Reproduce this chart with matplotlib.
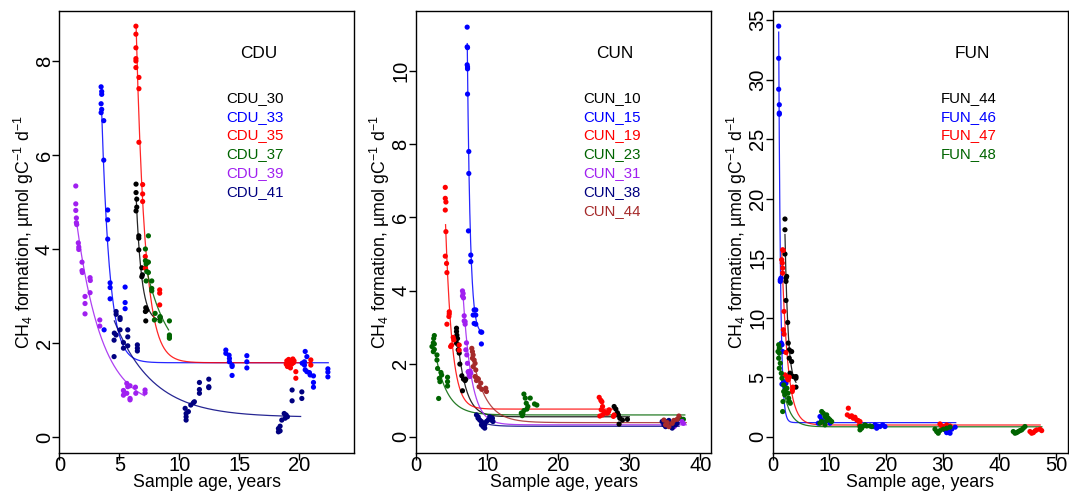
import numpy as np
import matplotlib
matplotlib.use('Agg')
import matplotlib.pyplot as plt

plt.rcParams['font.family'] = ['Liberation Sans', 'DejaVu Sans']
plt.rcParams['mathtext.fontset'] = 'custom'
plt.rcParams['mathtext.rm'] = 'Liberation Sans'
plt.rcParams['mathtext.default'] = 'regular'

# ---------------- CDU ----------------
cdu30_x = [6.39, 6.39, 6.45, 6.39, 6.45, 6.62, 6.62, 6.62, 6.87, 6.87, 6.92, 7.2, 7.17, 7.2, 7.28, 8.39]
cdu30_y = [5.38, 5.20, 5.06, 4.81, 4.89, 4.28, 4.23, 3.98, 3.60, 3.41, 3.45, 2.75, 2.67, 2.47, 2.70, 2.55]
cdu33_x = [3.48, 3.53, 3.53, 3.48, 3.53, 3.48, 3.70, 3.70, 4.03, 4.03, 4.03, 4.23, 4.23, 4.23, 5.48, 5.48, 5.48, 3.73,
           13.87, 13.87, 14.14, 14.17, 14.17, 14.39, 14.39, 14.39, 15.62, 15.62, 15.62,
           20.48, 20.62, 20.42, 20.42, 20.48, 20.62, 20.83, 20.89, 21.17, 21.17, 21.17, 20.23, 22.37, 22.37, 22.37]
cdu33_y = [7.45, 7.35, 7.29, 7.09, 6.97, 6.90, 6.73, 5.89, 4.83, 4.62, 4.21, 3.28, 3.18, 2.94, 3.19, 2.86, 2.73, 2.28,
           1.85, 1.78, 1.74, 1.67, 1.60, 1.53, 1.50, 1.31, 1.73, 1.60, 1.47,
           1.82, 1.71, 1.60, 1.53, 1.43, 1.39, 1.37, 1.32, 1.30, 1.16, 1.06, 1.57, 1.45, 1.38, 1.28]
cdu35_x = [6.38, 6.38, 6.38, 6.38, 6.38, 6.38, 6.63, 6.63, 6.63, 6.94, 6.94, 6.94, 7.16, 7.16, 8.36, 8.36, 8.36,
           18.9, 18.95, 19.0, 19.05, 19.1, 19.15, 19.2, 19.25, 19.3, 19.35, 19.45, 19.5, 19.55, 19.7, 19.7, 20.95, 20.95]
cdu35_y = [8.74, 8.57, 8.28, 8.05, 8.00, 7.86, 7.65, 7.41, 6.27, 5.37, 5.17, 5.01, 3.84, 3.59, 3.13, 3.06, 2.81,
           1.55, 1.62, 1.50, 1.58, 1.65, 1.52, 1.60, 1.47, 1.63, 1.55, 1.66, 1.58, 1.62, 1.39, 1.25, 1.64, 1.53]
cdu37_x = [7.42, 7.17, 7.17, 7.33, 7.42, 7.23, 7.28, 7.42, 7.23, 7.7, 7.7, 7.7, 7.98, 7.92, 8.39, 8.39, 9.17, 9.17, 9.17, 9.17]
cdu37_y = [4.28, 4.0, 3.75, 3.72, 3.72, 3.68, 3.52, 3.50, 3.32, 3.32, 3.16, 3.11, 2.63, 2.49, 2.56, 2.47, 2.47, 2.17, 2.10, 2.13]
cdu39_x = [1.37, 1.37, 1.37, 1.42, 1.42, 1.45, 1.58, 1.62, 1.62, 1.89, 1.89, 1.92, 2.56, 2.58, 2.56, 2.14, 2.14, 2.14, 3.37, 3.37,
           5.62, 5.7, 5.89, 6.34, 6.37, 7.14, 7.14, 5.34, 5.34, 5.62, 5.89, 5.89, 5.42]
cdu39_y = [5.34, 4.96, 4.82, 4.66, 4.56, 4.52, 4.13, 4.04, 3.99, 3.72, 3.54, 3.50, 3.39, 3.33, 3.07, 2.99, 2.84, 2.62, 2.49, 2.36,
           1.14, 1.07, 1.09, 1.06, 0.93, 1.0, 0.94, 0.99, 0.89, 0.93, 0.82, 0.79, 0.94]
cdu41_x = [4.73, 4.73, 5.06, 5.06, 4.58, 5.06, 4.73, 5.7, 5.7, 5.34, 5.34, 5.7, 4.56, 4.56, 6.5, 6.5, 6.5,
           10.48, 10.56, 10.56, 10.56, 10.75, 10.95, 11.17, 11.25, 11.67, 11.67, 11.67, 12.45, 12.45, 12.45,
           18.73, 18.89, 19.0, 18.81, 18.53, 18.39, 18.25, 18.25, 18.39, 19.39, 19.39, 20.2, 20.2]
cdu41_y = [2.67, 2.61, 2.54, 2.50, 2.21, 2.28, 2.17, 2.28, 2.13, 2.01, 1.89, 1.94, 2.06, 1.71, 1.96, 1.89, 1.83,
           0.61, 0.50, 0.43, 0.36, 0.54, 0.68, 0.73, 0.75, 1.16, 1.01, 0.93, 1.23, 1.07, 1.05,
           0.50, 0.47, 0.43, 0.40, 0.36, 0.23, 0.18, 0.11, 0.13, 1.0, 0.77, 0.96, 0.82]

# ---------------- CUN ----------------
cun10_x = [5.69, 5.69, 5.74, 5.83, 5.69, 5.97, 5.93, 6.07, 6.16, 6.44, 6.67, 6.9, 7.0, 6.53,
           27.86, 28.1, 28.32, 28.46, 28.66, 29.03, 29.73, 28.56]
cun10_y = [2.97, 2.88, 2.78, 2.69, 2.56, 2.51, 2.38, 2.29, 1.99, 1.67, 1.58, 1.54, 1.58, 1.26,
           0.83, 0.76, 0.66, 0.60, 0.51, 0.46, 0.48, 0.35]
cun15_x = [7.19, 7.19, 7.24, 7.19, 7.24, 7.24, 7.24, 7.42, 7.42, 7.37, 7.7, 7.7, 8.17, 8.4, 8.03, 8.4, 8.17, 8.4, 9.1, 9.24, 9.19]
cun15_y = [11.2, 10.66, 10.64, 10.17, 10.11, 10.06, 9.37, 7.80, 7.2, 5.63, 4.97, 4.79, 3.47, 3.47, 3.33, 3.33, 3.10, 3.08, 2.87, 2.86, 2.54]
cun19_x = [4.11, 4.11, 4.2, 4.11, 4.2, 4.11, 4.29, 4.34, 4.67, 4.67, 4.62, 4.34, 5.22, 5.32, 4.86, 5.0, 6.07, 6.07,
           25.76, 25.99, 26.04, 26.22, 25.85, 26.46, 26.93, 27.16, 27.86, 27.76, 26.14, 26.23, 26.7, 27.07]
cun19_y = [6.82, 6.52, 6.42, 6.20, 5.61, 4.94, 4.74, 4.49, 3.42, 3.36, 3.29, 3.08, 2.72, 2.65, 2.47, 2.51, 2.51, 2.37,
           1.08, 1.0, 0.74, 0.60, 0.57, 0.69, 0.65, 0.74, 0.60, 0.56, 0.96, 0.83, 0.65, 0.69]
cun23_x = [2.57, 2.48, 2.43, 2.57, 2.24, 2.57, 2.43, 2.94, 2.94, 3.03, 3.5, 3.6, 3.27, 3.36, 4.43, 4.43, 4.43, 3.18,
           15.17, 15.36, 16.06, 15.5, 15.73, 15.59, 16.66, 16.99, 15.17, 15.02, 14.94, 14.8, 36.5, 37.2, 37.6]
cun23_y = [2.77, 2.69, 2.57, 2.54, 2.47, 2.39, 2.33, 2.24, 2.10, 1.87, 1.76, 1.69, 1.60, 1.51, 1.63, 1.51, 1.39, 1.05,
           1.17, 1.06, 1.06, 0.92, 0.83, 0.76, 0.90, 0.87, 0.72, 0.63, 0.58, 0.65, 0.45, 0.50, 0.48]
cun31_x = [6.53, 6.62, 6.53, 6.67, 6.77, 6.77, 6.9, 6.9, 7.09, 7.0, 7.14, 7.23, 7.37, 7.47, 7.6, 7.33, 7.47, 7.7, 7.56,
           37.4, 37.6, 36.5, 36.3]
cun31_y = [3.99, 3.92, 3.85, 3.80, 3.31, 3.17, 3.15, 3.08, 2.57, 2.38, 2.24, 2.01, 1.78, 1.74, 1.80, 1.78, 1.69, 1.74, 1.65,
           0.42, 0.37, 0.33, 0.28]
cun38_x = [8.5, 8.73, 8.96, 9.2, 9.42, 9.66, 9.9, 10.13, 9.2, 10.36, 10.74, 10.82, 10.6, 8.73, 9.43, 9.66,
           34.62, 34.86, 35.1, 35.33, 35.56, 35.8, 36.03, 36.5, 36.73, 35.1]
cun38_y = [0.6, 0.51, 0.46, 0.42, 0.37, 0.33, 0.42, 0.46, 0.33, 0.55, 0.51, 0.42, 0.46, 0.55, 0.28, 0.24,
           0.42, 0.33, 0.28, 0.37, 0.45, 0.33, 0.24, 0.33, 0.37, 0.42]
cun44_x = [7.84, 7.93, 8.03, 7.93, 8.17, 8.3, 8.03, 8.4, 8.3, 8.63, 8.5, 8.77, 9.1, 8.87, 9.24, 9.8, 9.9,
           34.86, 35.1, 35.56, 36.03, 36.26, 36.73, 36.97, 35.33]
cun44_y = [2.42, 2.33, 2.24, 2.15, 2.10, 2.01, 1.92, 1.83, 1.65, 1.60, 1.54, 1.58, 1.47, 1.37, 1.30, 1.33, 1.24,
           0.46, 0.33, 0.28, 0.37, 0.45, 0.48, 0.57, 0.39]

# ---------------- FUN ----------------
fun44_x = [2.17, 2.17, 2.17, 2.35, 2.35, 2.47, 2.35, 2.65, 2.75, 2.93, 2.93, 3.35, 3.35, 3.05, 3.64, 4.11, 4.11, 4.11, 3.05]
fun44_y = [18.3, 17.4, 15.36, 13.34, 13.06, 13.48, 11.46, 9.61, 7.88, 7.31, 6.61, 7.17, 6.33, 5.35, 5.07, 5.07, 4.93, 4.18, 5.21]
fun46_x = [1.06, 1.06, 1.06, 1.17, 1.17, 1.17, 1.34, 1.34, 1.46, 1.52, 1.64, 1.76, 1.94, 2.12, 2.22, 1.64, 2.35,
           8.35, 8.64, 8.93, 9.81, 10.11, 8.05,
           18.05, 18.46, 18.93, 19.41, 19.82, 18.35, 17.75,
           30.4, 31.0, 31.6, 32.2, 31.3, 30.7]
fun46_y = [34.5, 31.8, 29.2, 27.9, 27.2, 27.1, 13.2, 13.06, 13.34, 7.88, 7.74, 7.17, 4.65, 4.37, 4.09, 4.43, 4.51,
           1.71, 1.43, 1.29, 1.49, 1.15, 1.15,
           1.01, 0.92, 0.87, 1.01, 0.87, 0.73, 0.87,
           0.59, 0.45, 0.65, 0.82, 0.31, 0.36]
fun47_x = [1.76, 1.88, 1.59, 1.7, 1.76, 1.76, 2.0, 1.88, 2.0, 2.35, 2.17, 2.47, 2.65, 2.75, 2.93, 3.5, 3.45, 3.55,
           13.35, 13.17, 13.64, 13.94, 14.23, 14.52, 14.82, 15.11, 15.41, 15.3,
           29.52, 29.82, 30.1, 30.7, 30.99, 31.29,
           45.4, 45.99, 46.29, 46.59, 47.17, 47.47, 45.7]
fun47_y = [15.72, 15.66, 14.88, 14.6, 14.18, 13.76, 10.54, 9.0, 8.63, 7.09, 5.21, 5.07, 4.85, 4.79, 5.02, 3.95, 3.81, 4.18,
           2.41, 1.85, 1.71, 1.77, 1.57, 1.65, 1.43, 1.37, 1.29, 1.01,
           1.09, 0.92, 0.87, 1.01, 0.82, 0.92,
           0.45, 0.36, 0.5, 0.59, 0.65, 0.53, 0.31]
fun48_x = [1.06, 1.17, 0.94, 1.17, 1.06, 1.34, 1.17, 1.52, 1.64, 1.94, 1.94, 2.12, 2.22, 2.52, 2.7, 2.82, 2.93, 3.11, 1.82, 1.76,
           8.65, 8.93, 9.23, 9.53, 9.81, 8.65, 8.35, 9.53, 10.11, 10.41, 9.23,
           15.41, 15.7, 15.99, 16.29, 16.59, 17.17, 15.41, 17.47,
           28.64, 28.94, 29.22, 29.52, 30.1, 30.7, 31.29,
           42.46, 42.76, 43.06, 43.34, 43.64, 44.22, 44.52, 43.94]
fun48_y = [7.74, 7.46, 7.17, 7.04, 6.61, 6.19, 5.77, 5.35, 4.93, 4.37, 3.81, 3.53, 3.95, 4.09, 3.67, 3.25, 2.97, 2.83, 2.97, 2.13,
           2.13, 1.99, 1.71, 1.85, 1.57, 1.29, 1.15, 1.37, 1.43, 1.29, 1.01,
           0.87, 0.73, 0.92, 1.01, 0.92, 0.92, 0.59, 0.87,
           0.65, 0.45, 0.31, 0.53, 0.65, 0.73, 0.82,
           0.45, 0.31, 0.36, 0.45, 0.53, 0.73, 0.87, 0.59]

# fitted decay curves: [x start, x end, y at start, plateau, rate]
cdu_fits = [[6.4, 8.4, 5.1, 2.45, 2.2], [3.53, 22.4, 6.9, 1.58, 1.5], [6.4, 21.0, 8.7, 1.58, 1.35],
            [7.14, 9.1, 3.7, 1.5, 0.53], [1.45, 7.1, 4.55, 0.6, 0.47], [4.58, 20.1, 2.47, 0.42, 0.31]]
cun_fits = [[5.69, 30.0, 2.95, 0.55, 0.85], [7.2, 9.3, 10.75, 2.8, 2.4], [4.15, 28.1, 5.8, 0.76, 1.1],
            [2.8, 37.8, 2.2, 0.6, 0.6], [6.6, 38.0, 3.9, 0.33, 0.85], [8.5, 37.0, 0.5, 0.29, 0.8],
            [7.84, 38.0, 2.3, 0.39, 0.53]]
fun_fits = [[2.17, 4.11, 17.0, 4.2, 1.8], [1.06, 32.3, 34.0, 1.2, 3.0], [1.6, 47.2, 15.5, 1.0, 0.95],
            [1.0, 47.5, 7.4, 0.85, 0.8]]

cdu_names = ['CDU_30', 'CDU_33', 'CDU_35', 'CDU_37', 'CDU_39', 'CDU_41']
cun_names = ['CUN_10', 'CUN_15', 'CUN_19', 'CUN_23', 'CUN_31', 'CUN_38', 'CUN_44']
fun_names = ['FUN_44', 'FUN_46', 'FUN_47', 'FUN_48']

colors = ['black', '#0000ff', '#ff0000', '#006400', '#a020f0', '#000080', '#a52a2a']


def draw_panel(ax, title, names, xs, ys, fits, xlim, ylim, yticks, xticks):
    for i in range(len(names)):
        c = colors[i]
        ax.scatter(xs[i], ys[i], s=14, color=c, edgecolors='none', zorder=3)
        x0, x1, y0, plat, k = fits[i]
        t = np.linspace(x0, x1, 300)
        ax.plot(t, plat + (y0 - plat) * np.exp(-k * (t - x0)), color=c, lw=0.9, alpha=0.85, zorder=2)

    ax.set_xlim(xlim)
    ax.set_ylim(ylim)
    ax.set_xticks(xticks)
    ax.set_yticks(yticks)
    ax.tick_params(axis='both', direction='out', length=5, width=1, labelsize=14.5)
    ax.tick_params(axis='x', pad=-2.5)
    ax.tick_params(axis='y', pad=-1)
    for lab in ax.get_yticklabels():
        lab.set_rotation(90)
        lab.set_va('center')
    for sp in ax.spines.values():
        sp.set_linewidth(1)

    ax.set_xlabel('Sample age, years', fontsize=12.8, labelpad=-1.2)
    ax.set_ylabel(r'CH$_4$ formation, µmol gC$^{-1}$ d$^{-1}$', fontsize=12.8)
    ax.yaxis.set_label_coords(-0.08, 0.5)

    ax.text(0.675, 0.904, title, transform=ax.transAxes, ha='center', va='center', fontsize=12.4)
    for i, n in enumerate(names):
        ax.text(0.568, 0.803 - i * 0.0425, n, transform=ax.transAxes, ha='left', va='center',
                fontsize=10.8, color=colors[i])


fig = plt.figure(figsize=(10.69, 4.92), dpi=100)
ax1 = fig.add_axes([0.0555, 0.0793, 0.2757, 0.899])
ax2 = fig.add_axes([0.3892, 0.0793, 0.2760, 0.899])
ax3 = fig.add_axes([0.7228, 0.0793, 0.2762, 0.899])

draw_panel(ax1, 'CDU', cdu_names,
           [cdu30_x, cdu33_x, cdu35_x, cdu37_x, cdu39_x, cdu41_x],
           [cdu30_y, cdu33_y, cdu35_y, cdu37_y, cdu39_y, cdu41_y],
           cdu_fits, (0, 24.55), (-0.34, 9.07), [0, 2, 4, 6, 8], [0, 5, 10, 15, 20])
draw_panel(ax2, 'CUN', cun_names,
           [cun10_x, cun15_x, cun19_x, cun23_x, cun31_x, cun38_x, cun44_x],
           [cun10_y, cun15_y, cun19_y, cun23_y, cun31_y, cun38_y, cun44_y],
           cun_fits, (0, 41.5), (-0.44, 11.65), [0, 2, 4, 6, 8, 10], [0, 10, 20, 30, 40])
draw_panel(ax3, 'FUN', fun_names,
           [fun44_x, fun46_x, fun47_x, fun48_x],
           [fun44_y, fun46_y, fun47_y, fun48_y],
           fun_fits, (0, 52.1), (-1.35, 35.8), [0, 5, 10, 15, 20, 25, 30, 35], [0, 10, 20, 30, 40, 50])

fig.savefig('out.png', dpi=100)
